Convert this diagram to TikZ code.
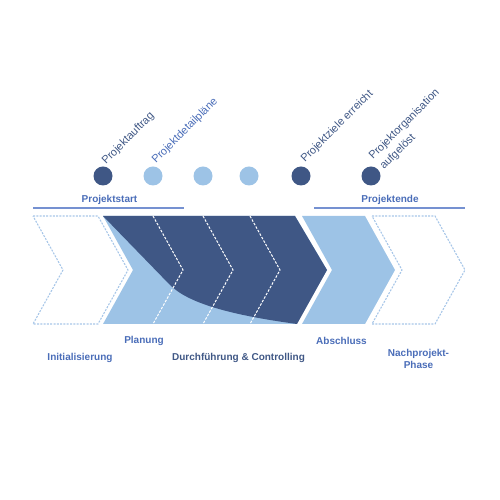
\documentclass[tikz,border=0pt]{standalone}
\usepackage{fontspec}
\setmainfont{Liberation Sans}
\definecolor{navy}{HTML}{3F5785}
\definecolor{lblue}{HTML}{9DC3E6}
\definecolor{tblue}{HTML}{4A6DB8}
\definecolor{lineblue}{HTML}{7591D1}
\definecolor{dashblue}{HTML}{A7C6E8}
\begin{document}
\begin{tikzpicture}[x=1pt,y=1pt,
  outl/.style={draw=dashblue,line width=1.1pt,dash pattern=on 2pt off 1.3pt},
  sep/.style={draw=white,line width=1pt,dash pattern=on 2.5pt off 1.5pt},
  dot/.style={circle,minimum size=19pt,inner sep=0pt},
  phase/.style={font=\bfseries\fontsize{10}{12}\selectfont,text=tblue,inner sep=0pt,align=center},
  mile/.style={font=\fontsize{11}{13}\selectfont,inner sep=0pt,anchor=base west,rotate=45},
  bar/.style={draw=lineblue,line width=1.2pt}]
\useasboundingbox (0,0) rectangle (500,500);
% phases
\draw[outl] (33,284) -- (98,284) -- (128,230) -- (98,176) -- (33,176) -- (63,230) -- cycle;
\fill[lblue] (103,284) -- (295,284) -- (327,230) -- (295,176) -- (103,176) -- (133,230) -- cycle;
\fill[navy] (103,284) -- (295,284) -- (327,230) -- (297,176) .. controls (230,185) and (188,197) .. (170,215) -- cycle;
\draw[sep] (153,284) -- (183,230) -- (153,176);
\draw[sep] (203,284) -- (233,230) -- (203,176);
\draw[sep] (250,284) -- (280,230) -- (250,176);
\fill[lblue] (302,284) -- (365,284) -- (395,230) -- (365,176) -- (302,176) -- (332,230) -- cycle;
\draw[outl] (372,284) -- (435,284) -- (465,230) -- (435,176) -- (372,176) -- (402,230) -- cycle;
% bars
\coordinate (s1) at (33,292); \coordinate (s2) at (184,292);
\coordinate (e1) at (314,292); \coordinate (e2) at (465,292);
\draw[bar] (s1) -- (s2);
\draw[bar] (e1) -- (e2);
\node[phase] (pstart) at (109.5,300) {Projektstart};
\node[phase] (pende) at (390,300) {Projektende};
% milestones
\node[dot,fill=navy] (c1) at (103,324) {};
\node[dot,fill=lblue] (c2) at (153,324) {};
\node[dot,fill=lblue] (c3) at (203,324) {};
\node[dot,fill=lblue] (c4) at (249,324) {};
\node[dot,fill=navy] (c5) at (301,324) {};
\node[dot,fill=navy] (c6) at (371,324) {};
\node[mile,text=navy] (m1) at (106,335) {Projektauftrag};
\node[mile,text=tblue] (m2) at (156,336) {Projektdetailpläne};
\node[mile,text=navy] (m5) at (305,337) {Projektziele erreicht};
\node[mile,text=navy] (m6a) at (373,340) {Projektorganisation};
\node[mile,text=navy] (m6b) at (384,330) {aufgelöst};
% phase labels
\node[phase] (l1) at (80,142.3) {Initialisierung};
\node[phase] (l2) at (144,159.3) {Planung};
\node[phase,text=navy] (l3) at (238.5,142.3) {Durchführung \& Controlling};
\node[phase] (l4) at (341.5,159.3) {Abschluss};
\node[phase,font=\bfseries\fontsize{10}{11.7}\selectfont] (l5) at (418.5,141) {Nachprojekt-\\Phase};
\end{tikzpicture}
\end{document}
